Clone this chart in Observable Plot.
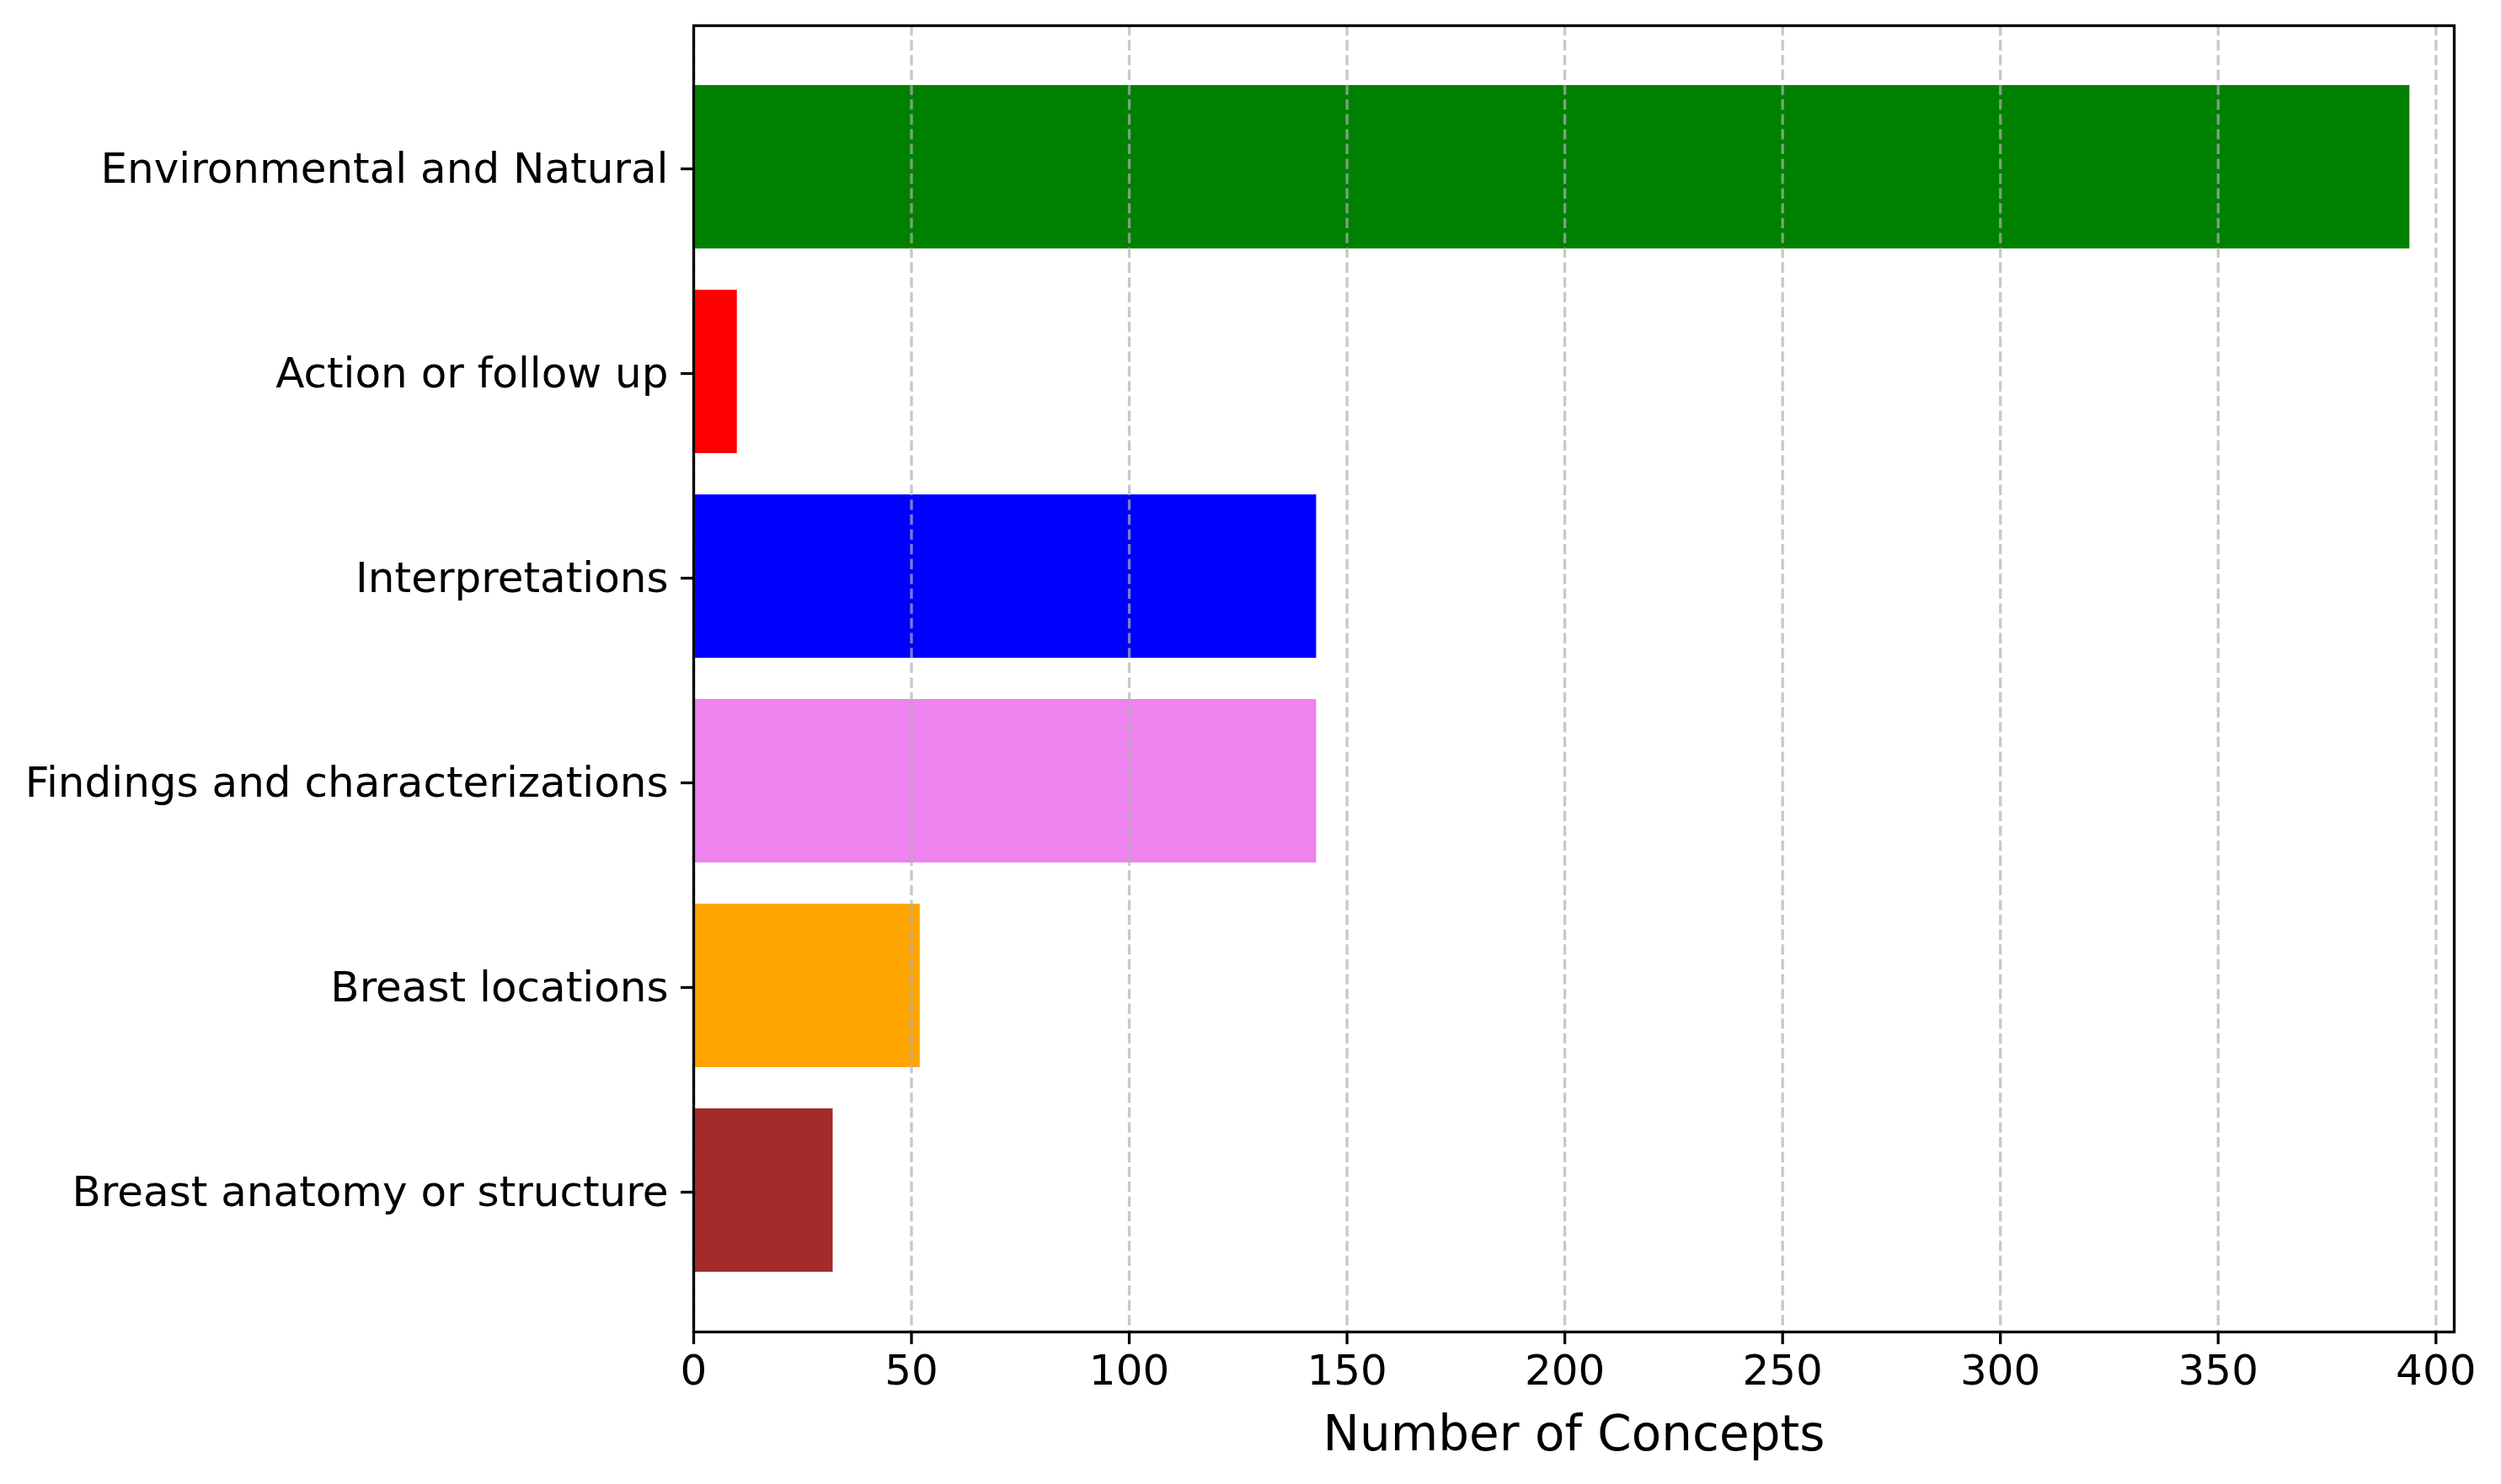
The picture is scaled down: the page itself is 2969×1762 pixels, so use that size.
<!DOCTYPE html>
<html>
<head>
<meta charset="utf-8">
<script src="https://cdn.jsdelivr.net/npm/d3@7"></script>
<script src="https://cdn.jsdelivr.net/npm/@observablehq/plot@0.6"></script>
<style>
  html, body { margin: 0; padding: 0; background: white; }
  #chart svg { display: block; }
</style>
</head>
<body>
<div id="chart"></div>
<script>
const categories = [
  "Environmental and Natural",
  "Action or follow up",
  "Interpretations",
  "Findings and characterizations",
  "Breast locations",
  "Breast anatomy or structure"
];
const values = [394, 10, 143, 143, 52, 32];
const colors = ["green", "red", "blue", "violet", "orange", "brown"];
const xTicks = [0, 50, 100, 150, 200, 250, 300, 350, 400];
const xLabel = "Number of Concepts";

const data = categories.map((c, i) => ({category: c, value: values[i]}));

const chart = Plot.plot({
  width: 2969,
  height: 1762,
  marginLeft: 823,
  marginRight: 56,
  marginTop: 30,
  marginBottom: 181,
  style: {fontFamily: "'DejaVu Sans', sans-serif", background: "white", color: "black"},
  x: {domain: [0, 404.2]},
  y: {domain: categories, paddingInner: 0.2, paddingOuter: 0.29},
  color: {domain: categories, range: colors},
  marks: [
    Plot.barX(data, {x: "value", y: "category", fill: "category"}),
    Plot.gridX(xTicks, {stroke: "#b0b0b0", strokeOpacity: 0.7, strokeWidth: 3.3, strokeDasharray: "12.3,5.3"}),
    Plot.frame({stroke: "black", strokeWidth: 3.3}),
    Plot.axisX({ticks: xTicks, tickSize: 15, tickPadding: 12, strokeWidth: 3.3, fontSize: 50, label: null}),
    Plot.axisY({tickSize: 15, tickPadding: 15, strokeWidth: 3.3, fontSize: 50, label: null, dy: 2}),
    Plot.text([xLabel], {frameAnchor: "bottom", dy: 140, lineAnchor: "bottom", fontSize: 58, fill: "black"})
  ]
});
document.getElementById("chart").appendChild(chart);
</script>
</body>
</html>
